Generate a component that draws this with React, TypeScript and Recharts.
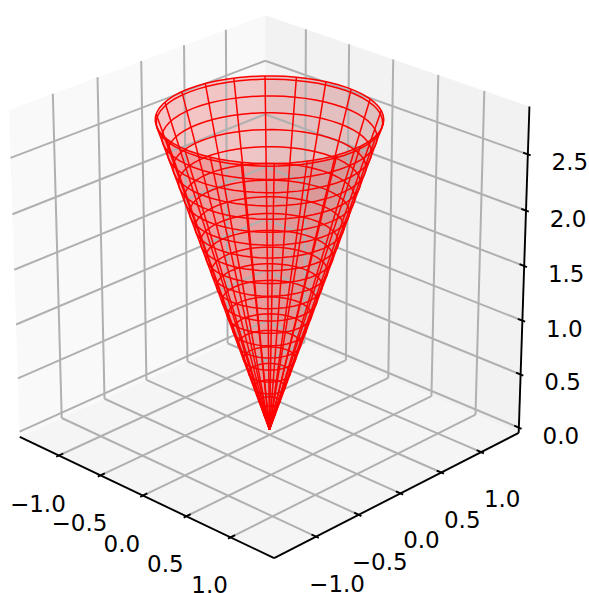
import { ComposedChart, Area, Line, Scatter, XAxis, YAxis } from "recharts";

// values
const xTicks = [-1, -0.5, 0, 0.5, 1];
const yTicks = [-1, -0.5, 0, 0.5, 1];
const zTicks = [0, 0.5, 1, 1.5, 2, 2.5];
const xLim = [-1.48, 1.48];
const yLim = [-1.48, 1.48];
const zLim = [-0.05, 2.92];
const rimRadius = 0.92;
const coneHeight = 2.83;
// fraction of the cone height where each ring sits
const ringLevels = [
  0.047, 0.094, 0.142, 0.189, 0.236, 0.283, 0.33, 0.378, 0.425, 0.472, 0.519,
  0.566, 0.614, 0.661, 0.708, 0.755, 0.802, 0.85, 0.897, 0.944, 0.991, 1,
];
const spokeAngles = [
  5.4, 21.8, 38.1, 54.5, 70.9, 87.2, 103.6, 120, 136.3, 152.7, 169.1, 185.4,
  201.8, 218.2, 234.5, 250.9, 267.2, 283.6, 300, 316.3, 332.7, 349.1,
];
const ringAngles = [
  0, 6, 12, 18, 24, 30, 36, 42, 48, 54, 60, 66, 72, 78, 84, 90, 96, 102, 108,
  114, 120, 126, 132, 138, 144, 150, 156, 162, 168, 174, 180, 186, 192, 198,
  204, 210, 216, 222, 228, 234, 240, 246, 252, 258, 264, 270, 276, 282, 288,
  294, 300, 306, 312, 318, 324, 330, 336, 342, 348, 354, 360,
];
const xLabels = ["\u22121.0", "\u22120.5", "0.0", "0.5", "1.0"];
const yLabels = ["\u22121.0", "\u22120.5", "0.0", "0.5", "1.0"];
const zLabels = ["0.0", "0.5", "1.0", "1.5", "2.0", "2.5"];

const WIDTH = 589;
const HEIGHT = 593;
const SCALE = 3603;
const CX = 269.5;
const CY = 275;
const ELEV = (25 * Math.PI) / 180;
const AZIM = (-46 * Math.PI) / 180;
const DIST = 10;

type Pt = { x: number; y: number };

// same camera model as a 3d axes: box scaled to unit cube, perspective from DIST
function project(x: number, y: number, z: number): Pt {
  const px = (x - xLim[0]) / (xLim[1] - xLim[0]) - 0.5;
  const py = (y - yLim[0]) / (yLim[1] - yLim[0]) - 0.5;
  const pz = (z - zLim[0]) / (zLim[1] - zLim[0]) - 0.5;
  const ce = Math.cos(ELEV);
  const se = Math.sin(ELEV);
  const ca = Math.cos(AZIM);
  const sa = Math.sin(AZIM);
  const depth = px * ce * ca + py * ce * sa + pz * se;
  const u = -px * sa + py * ca;
  const v = -px * se * ca - py * se * sa + pz * ce;
  return { x: u / (DIST - depth), y: v / (DIST - depth) };
}

const seg = (a: number[], b: number[]): Pt[] => [
  project(a[0], a[1], a[2]),
  project(b[0], b[1], b[2]),
];

const conePoint = (t: number, deg: number) => {
  const a = (deg * Math.PI) / 180;
  return project(
    rimRadius * t * Math.cos(a),
    rimRadius * t * Math.sin(a),
    coneHeight * t
  );
};

// vertical span of a set of edges at every vertex x, for a range Area
function toRange(points: Pt[], edges: [Pt, Pt][]) {
  const xs = Array.from(new Set(points.map((p) => p.x))).sort((a, b) => a - b);
  return xs.map((x) => {
    const hits: number[] = [];
    edges.forEach(([a, b]) => {
      const lo = Math.min(a.x, b.x);
      const hi = Math.max(a.x, b.x);
      if (x < lo || x > hi) return;
      hits.push(hi === lo ? a.y : a.y + ((b.y - a.y) * (x - a.x)) / (b.x - a.x));
    });
    return { x, range: [Math.min(...hits), Math.max(...hits)] };
  });
}

const polyRange = (pts: Pt[]) =>
  toRange(
    pts,
    pts.map((p, i) => [p, pts[(i + 1) % pts.length]] as [Pt, Pt])
  );

const [x0, x1] = xLim;
const [y0, y1] = yLim;
const [z0, z1] = zLim;

const panes = [
  {
    fill: "#f9f9f9",
    pts: [
      project(x0, y0, z0),
      project(x0, y0, z1),
      project(x0, y1, z1),
      project(x0, y1, z0),
    ],
  },
  {
    fill: "#f2f2f2",
    pts: [
      project(x0, y1, z0),
      project(x0, y1, z1),
      project(x1, y1, z1),
      project(x1, y1, z0),
    ],
  },
  {
    fill: "#f5f5f5",
    pts: [
      project(x0, y0, z0),
      project(x0, y1, z0),
      project(x1, y1, z0),
      project(x1, y0, z0),
    ],
  },
];

const gridLines: Pt[][] = [
  ...xTicks.flatMap((t) => [
    seg([t, y0, z0], [t, y1, z0]),
    seg([t, y1, z0], [t, y1, z1]),
  ]),
  ...yTicks.flatMap((t) => [
    seg([x0, t, z0], [x1, t, z0]),
    seg([x0, t, z0], [x0, t, z1]),
  ]),
  ...zTicks.flatMap((t) => [
    seg([x0, y0, t], [x0, y1, t]),
    seg([x0, y1, t], [x1, y1, t]),
  ]),
];

const axisLines: Pt[][] = [
  seg([x0, y0, z0], [x1, y0, z0]),
  seg([x1, y0, z0], [x1, y1, z0]),
  seg([x1, y1, z0], [x1, y1, z1]),
];

const tickMarks: Pt[][] = [
  ...xTicks.map((t) => seg([t, y0 + 0.05, z0], [t, y0 - 0.03, z0])),
  ...yTicks.map((t) => seg([x1 - 0.05, t, z0], [x1 + 0.03, t, z0])),
  ...zTicks.map((t) => seg([x1 - 0.05, y1, t], [x1 + 0.03, y1, t])),
];

const shifted = (p: Pt, label: string, dx: number, dy: number) => ({
  x: p.x + dx / SCALE,
  y: p.y - dy / SCALE,
  label,
});

const labels = [
  ...xTicks.map((t, i) => shifted(project(t, y0, z0), xLabels[i], -21, 48)),
  ...yTicks.map((t, i) => shifted(project(x1, t, z0), yLabels[i], 21, 47)),
  ...zTicks.map((t, i) => shifted(project(x1, y1, t), zLabels[i], 42, 8)),
];

const rings = ringLevels.map((t) => ringAngles.map((a) => conePoint(t, a)));
const spokes = spokeAngles.map((a) => [conePoint(0, a), conePoint(1, a)]);

const rim = ringAngles.map((a) => conePoint(1, a));
const apex = conePoint(0, 0);
const rimLeft = rim.reduce((m, p) => (p.x < m.x ? p : m), rim[0]);
const rimRight = rim.reduce((m, p) => (p.x > m.x ? p : m), rim[0]);
const rimEdges = rim.slice(1).map((p, i) => [rim[i], p] as [Pt, Pt]);
const sideEdges: [Pt, Pt][] = [
  [rimLeft, apex],
  [apex, rimRight],
];
const midY = (rimLeft.y + rimRight.y) / 2;
const frontEdges = rimEdges.filter(([a, b]) => (a.y + b.y) / 2 <= midY);
const coneBack = toRange([...rim, apex], [...rimEdges, ...sideEdges]);
const coneFront = toRange(
  [...rim.filter((p) => p.y <= midY), rimLeft, rimRight, apex],
  [...frontEdges, ...sideEdges]
);

const TickText = (p: any) => (
  <text
    x={p.cx}
    y={p.cy}
    textAnchor="middle"
    dominantBaseline="central"
    fontFamily="DejaVu Sans"
    fontSize={23}
    fill="#000"
  >
    {p.payload.label}
  </text>
);

export default function App() {
  return (
    <div style={{ position: "absolute", left: 0, top: 0, background: "#fff" }}>
      <ComposedChart
        width={WIDTH}
        height={HEIGHT}
        margin={{ top: 0, right: 0, bottom: 0, left: 0 }}
      >
        <defs>
          <linearGradient id="coneShade" x1="0" y1="0" x2="1" y2="0">
            <stop offset="0%" stopColor="#f01a1a" />
            <stop offset="100%" stopColor="#a01414" />
          </linearGradient>
        </defs>
        <XAxis
          dataKey="x"
          type="number"
          hide
          allowDataOverflow
          domain={[-CX / SCALE, (WIDTH - CX) / SCALE]}
        />
        <YAxis
          type="number"
          hide
          allowDataOverflow
          domain={[(CY - HEIGHT) / SCALE, CY / SCALE]}
        />
        {panes.map((pane, i) => (
          <Area
            key={`pane${i}`}
            data={polyRange(pane.pts)}
            dataKey="range"
            type="linear"
            stroke="none"
            fill={pane.fill}
            fillOpacity={1}
            isAnimationActive={false}
            dot={false}
            activeDot={false}
          />
        ))}
        {gridLines.map((pts, i) => (
          <Line
            key={`grid${i}`}
            data={pts}
            dataKey="y"
            stroke="#b0b0b0"
            strokeWidth={2}
            dot={false}
            activeDot={false}
            isAnimationActive={false}
          />
        ))}
        <Area
          data={coneBack}
          dataKey="range"
          type="linear"
          stroke="none"
          fill="url(#coneShade)"
          fillOpacity={0.23}
          isAnimationActive={false}
          dot={false}
          activeDot={false}
        />
        <Area
          data={coneFront}
          dataKey="range"
          type="linear"
          stroke="none"
          fill="url(#coneShade)"
          fillOpacity={0.23}
          isAnimationActive={false}
          dot={false}
          activeDot={false}
        />
        {rings.map((pts, i) => (
          <Line
            key={`ring${i}`}
            data={pts}
            dataKey="y"
            stroke="#ff0000"
            strokeWidth={1.5}
            dot={false}
            activeDot={false}
            isAnimationActive={false}
          />
        ))}
        {spokes.map((pts, i) => (
          <Line
            key={`spoke${i}`}
            data={pts}
            dataKey="y"
            stroke="#ff0000"
            strokeWidth={1.5}
            dot={false}
            activeDot={false}
            isAnimationActive={false}
          />
        ))}
        {axisLines.map((pts, i) => (
          <Line
            key={`axis${i}`}
            data={pts}
            dataKey="y"
            stroke="#000"
            strokeWidth={1.9}
            dot={false}
            activeDot={false}
            isAnimationActive={false}
          />
        ))}
        {tickMarks.map((pts, i) => (
          <Line
            key={`tick${i}`}
            data={pts}
            dataKey="y"
            stroke="#000"
            strokeWidth={1.9}
            dot={false}
            activeDot={false}
            isAnimationActive={false}
          />
        ))}
        <Scatter
          data={labels}
          dataKey="y"
          shape={TickText}
          isAnimationActive={false}
        />
      </ComposedChart>
    </div>
  );
}
